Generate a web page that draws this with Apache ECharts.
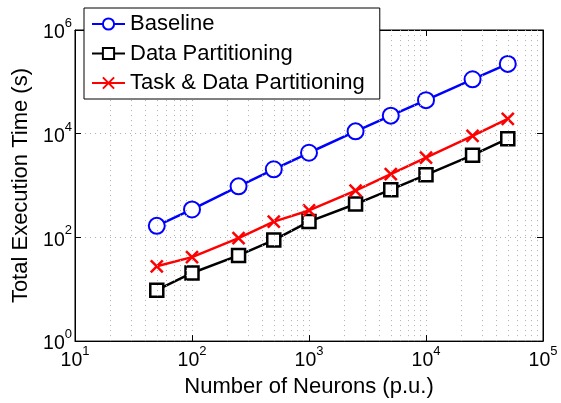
<!DOCTYPE html>
<html>
<head>
<meta charset="utf-8">
<script src="https://cdn.jsdelivr.net/npm/echarts@6/dist/echarts.min.js"></script>
<style>
html,body{margin:0;padding:0;background:#fff;}
#chart{width:561px;height:403px;}
</style>
</head>
<body>
<div id="chart"></div>
<script>
// ---- data ----
var neurons = [50, 100, 250, 500, 1000, 2500, 5000, 10000, 25000, 50000];
var baseline = [167, 346, 965, 2060, 4290, 11100, 22300, 44400, 112000, 222000];
var dataPartitioning = [9.6, 20.6, 45, 89, 202, 440, 832, 1610, 3860, 8030];
var taskDataPartitioning = [27.7, 41.6, 97, 202, 331, 796, 1656, 3440, 9040, 19300];
var seriesNames = ['Baseline', 'Data Partitioning', 'Task & Data Partitioning'];
var minorGridX = [20,30,40,50,60,70,80,90,200,300,400,500,600,700,800,900,
  2000,3000,4000,5000,6000,7000,8000,9000,20000,30000,40000,50000,60000,70000,80000,90000];
var xTitle = 'Number of Neurons (p.u.)';
var yTitle = 'Total Execution Time (s)';

function pairs(xs, ys){ return xs.map(function(x,i){ return [x, ys[i]]; }); }
var FONT = '"Liberation Sans", Arial, Helvetica, sans-serif';
function powLabel(v){
  var e = Math.round(Math.log(v)/Math.LN10);
  return '{b|10}{s|' + e + '}';
}
var rich = {
  b: {fontSize: 19.5, fontFamily: FONT, color: '#000', padding: [6,0,0,0]},
  s: {fontSize: 13, fontFamily: FONT, color: '#000', verticalAlign: 'top'}
};
var gridLine = {type: [1, 4], color: '#b0b0b0', width: 1};

var chart = echarts.init(document.getElementById('chart'), null, {renderer: 'canvas'});
chart.setOption({
  animation: false,
  backgroundColor: '#fff',
  textStyle: {fontFamily: FONT},
  grid: {left: 75, right: 18, top: 30, bottom: 58, show: true, borderColor: '#000', borderWidth: 1, backgroundColor: '#fff'},
  legend: {
    data: seriesNames,
    orient: 'vertical',
    left: 84, top: 8,
    backgroundColor: '#fff',
    borderColor: '#000', borderWidth: 1,
    padding: [5, 15, 5, 7],
    itemGap: 7.5,
    itemWidth: 33, itemHeight: 14,
    textStyle: {fontSize: 22, color: '#000', fontFamily: FONT},
    z: 10
  },
  xAxis: [{
    type: 'log', logBase: 10, min: 10, max: 100000,
    name: xTitle, nameLocation: 'middle', nameGap: 23,
    nameTextStyle: {fontSize: 22, color: '#000', fontFamily: FONT},
    axisLine: {lineStyle: {color: '#000', width: 1}},
    axisTick: {inside: true, length: 6, lineStyle: {color: '#000'}},
    axisLabel: {formatter: powLabel, rich: rich, margin: 4},
    splitLine: {show: true, lineStyle: gridLine}
  }, {
    type: 'log', logBase: 10, min: 10, max: 100000, position: 'top',
    axisLine: {show: true, lineStyle: {color: '#000'}},
    axisTick: {inside: true, length: 6, lineStyle: {color: '#000'}},
    axisLabel: {show: false}, splitLine: {show: false}
  }],
  yAxis: [{
    type: 'log', logBase: 10, min: 1, max: 1000000, interval: 2,
    name: yTitle, nameLocation: 'middle', nameGap: 42,
    nameTextStyle: {fontSize: 22, color: '#000', fontFamily: FONT},
    axisLine: {show: true, lineStyle: {color: '#000', width: 1}},
    axisTick: {show: true, inside: true, length: 6, lineStyle: {color: '#000'}},
    axisLabel: {formatter: powLabel, rich: rich, margin: 3},
    splitLine: {show: true, lineStyle: gridLine}
  }, {
    type: 'log', logBase: 10, min: 1, max: 1000000, interval: 2, position: 'right',
    axisLine: {show: true, lineStyle: {color: '#000'}},
    axisTick: {show: true, inside: true, length: 6, lineStyle: {color: '#000'}},
    axisLabel: {show: false}, splitLine: {show: false}
  }],
  series: [{
    name: '_grid', type: 'line', data: [], silent: true, z: 1,
    markLine: {
      silent: true, symbol: ['none', 'none'], label: {show: false},
      lineStyle: gridLine, animation: false,
      data: minorGridX.map(function(v){ return {xAxis: v}; })
    }
  }, {
    name: seriesNames[0], type: 'line', data: pairs(neurons, baseline),
    symbol: 'emptyCircle', symbolSize: 16, z: 3,
    lineStyle: {color: '#0000ff', width: 2.5},
    itemStyle: {color: '#0000ff', borderColor: '#0000ff', borderWidth: 2.5}
  }, {
    name: seriesNames[1], type: 'line', data: pairs(neurons, dataPartitioning),
    symbol: 'rect', symbolSize: 13, z: 3,
    lineStyle: {color: '#000', width: 2.5},
    itemStyle: {color: '#fff', borderColor: '#000', borderWidth: 2.5}
  }, {
    name: seriesNames[2], type: 'line', data: pairs(neurons, taskDataPartitioning),
    symbol: 'path://M0,0L10,10M10,0L0,10', symbolSize: 12, z: 3,
    lineStyle: {color: '#ff0000', width: 2.5},
    itemStyle: {color: '#ff0000', borderColor: '#ff0000', borderWidth: 2.5}
  }]
});
</script>
</body>
</html>
